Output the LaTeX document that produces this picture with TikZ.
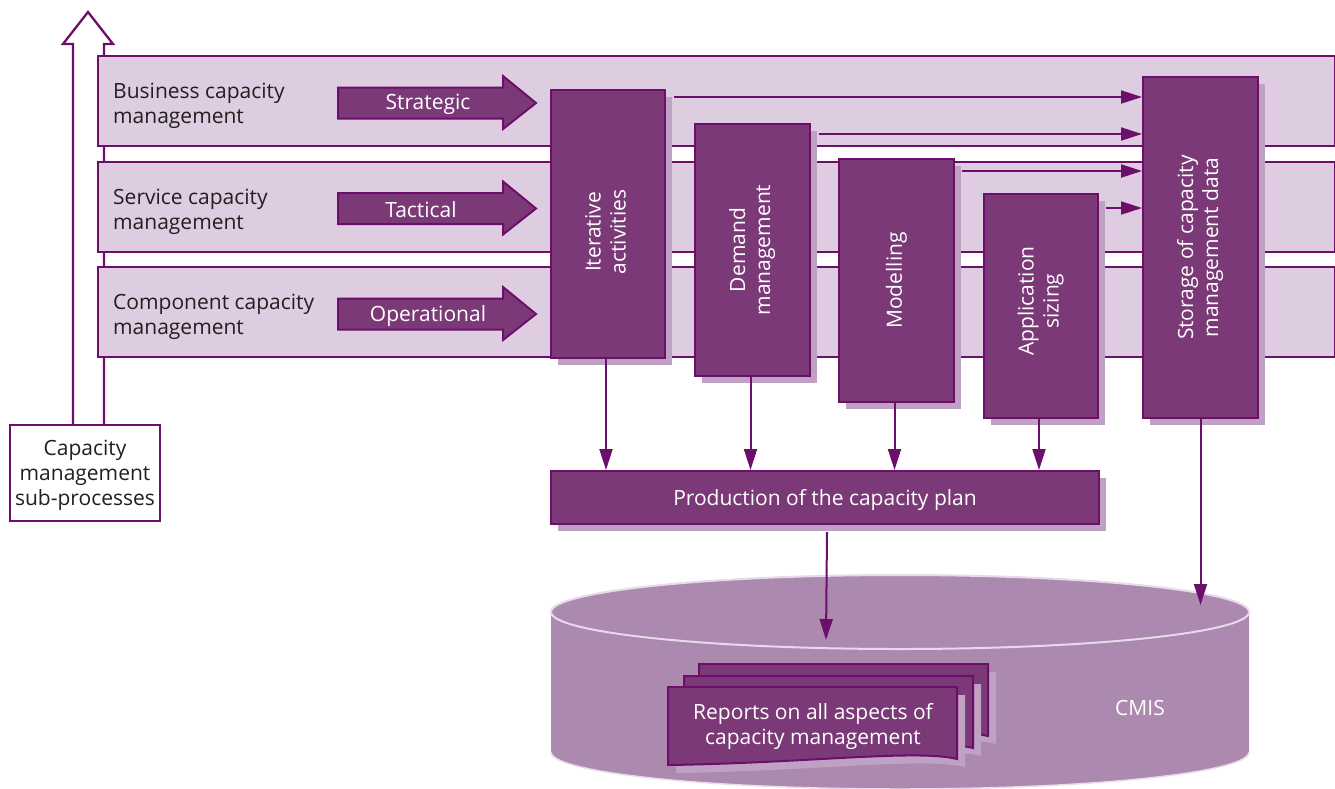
\documentclass[tikz,border=0pt]{standalone}
\usepackage{fontspec}
\usepackage{graphicx}
\setmainfont{Open Sans}
\usetikzlibrary{arrows.meta,calc,shadows,backgrounds}
\definecolor{pline}{HTML}{6B0F6B}
\definecolor{pbox}{HTML}{7B3A77}
\definecolor{pband}{HTML}{DECCE0}
\definecolor{pshadow}{HTML}{BFA2C3}
\definecolor{pcyl}{HTML}{AC89AF}
\definecolor{pcylline}{HTML}{E8DAEA}
\definecolor{ptext}{HTML}{231F20}
\begin{document}
\begin{tikzpicture}[x=1pt,y=-1pt,
  every node/.style={font=\fontsize{21}{25}\selectfont},
  band/.style={draw=pline, line width=2.3pt, fill=pband, inner sep=0pt, anchor=north west},
  lbl/.style={text=ptext, align=left, anchor=west, inner sep=0pt},
  pbx/.style={draw=pline, line width=2pt, fill=pbox, text=white, inner sep=0pt, anchor=north west,
     drop shadow={shadow xshift=7pt, shadow yshift=-7pt, fill=pshadow, opacity=1}},
  arr/.style={draw=pline, line width=2pt, -{Triangle[length=21pt,width=13pt]}},
  blk/.style={draw=pline, line width=2pt, fill=pbox},
  wt/.style={text=white, inner sep=0pt},
  docpic/.pic={
    \fill[pshadow] (8,8) -- (297,8) -- (297,80) .. controls (257,70) and (148,84) .. (8,86) -- cycle;
    \filldraw[draw=pline, line width=2pt, fill=pbox] (0,0) -- (289,0) -- (289,72) .. controls (249,62) and (140,76) .. (0,78) -- cycle;
  },
]
\useasboundingbox (0,0) rectangle (1335,788);

% bands
\node[band, minimum width=1237pt, minimum height=90pt] (b1) at (97,55) {};
\node[band, minimum width=1237pt, minimum height=90pt] (b2) at (97,160.5) {};
\node[band, minimum width=1237pt, minimum height=90pt] (b3) at (97,266) {};

\node[lbl] (l1) at (113,106) {Business capacity\\management};
\node[lbl] (l2) at (113,211.5) {Service capacity\\management};
\node[lbl] (l3) at (113,316.5) {Component capacity\\management};

% sub-processes box and big arrow
\node[draw=pline, line width=2pt, fill=white, text=ptext, align=center,
      minimum width=150pt, minimum height=96pt, inner sep=0pt] (sub) at (85,473)
      {\raisebox{-2pt}[\height][\depth]{\begin{tabular}{@{}c@{}}Capacity\\management\\sub-processes\end{tabular}}};
\begin{pgfonlayer}{background}
\filldraw[draw=pline, line width=2.3pt, fill=white]
  ($(sub.north)+(-12,0)$) -- (73,44) -- (63,44) -- (88,12) -- (113,44) -- (104,44) -- ($(sub.north)+(19,0)$);
\end{pgfonlayer}

% block arrows
\draw[blk, shift={(0,103)}] (338,-15.5) -- (503,-15.5) -- (503,-27) -- (536,0) -- (503,26) -- (503,15.5) -- (338,15.5) -- cycle;
\node[wt] (tS) at (428,104) {Strategic};
\draw[blk, shift={(0,208.5)}] (338,-15.5) -- (503,-15.5) -- (503,-27) -- (536,0) -- (503,26) -- (503,15.5) -- (338,15.5) -- cycle;
\node[wt] (tT) at (421,210) {Tactical};
\draw[blk, shift={(0,314)}] (338,-15.5) -- (503,-15.5) -- (503,-27) -- (536,0) -- (503,26) -- (503,15.5) -- (338,15.5) -- cycle;
\node[wt] (tO) at (428,316) {Operational};

% activity boxes
\node[pbx, minimum width=114pt, minimum height=268pt] (it) at (550,89)
  {\rotatebox{90}{\hspace*{-16pt}\begin{tabular}{@{}c@{}}Iterative\\activities\end{tabular}}};
\node[pbx, minimum width=115pt, minimum height=252pt] (dm) at (694,123)
  {\rotatebox{90}{\begin{tabular}{@{}c@{}}Demand\\management\end{tabular}}};
\node[pbx, minimum width=115pt, minimum height=243pt] (mo) at (838,158)
  {\rotatebox{90}{Modelling}};
\node[pbx, minimum width=114pt, minimum height=224pt] (as) at (983,193)
  {\rotatebox{90}{\begin{tabular}{@{}c@{}}Application\\sizing\end{tabular}\hspace*{-10pt}}};
\node[pbx, minimum width=115pt, minimum height=341pt] (st) at (1142,76)
  {\rotatebox{90}{\begin{tabular}{@{}c@{}}Storage of capacity\\management data\end{tabular}}};
\node[pbx, minimum width=548pt, minimum height=53pt] (pr) at (550,470)
  {\raisebox{-2.5pt}[\height][\depth]{Production of the capacity plan}};

% arrows into storage
\draw[arr] ($(it.east |- 0,97)+(8,0)$) -- (st.west |- 0,97);
\draw[arr] ($(dm.east |- 0,134)+(8,0)$) -- (st.west |- 0,134);
\draw[arr] ($(mo.east |- 0,171)+(7,0)$) -- (st.west |- 0,171);
\draw[arr] ($(as.east |- 0,208)+(7,0)$) -- (st.west |- 0,208);

% arrows into production
\draw[arr] ($(it.south)+(-2,0)$) -- ($(it.south |- pr.north)+(-2,0)$);
\draw[arr] ($(dm.south)+(-2,0)$) -- ($(dm.south |- pr.north)+(-2,0)$);
\draw[arr] ($(mo.south)+(-2,0)$) -- ($(mo.south |- pr.north)+(-2,0)$);
\draw[arr] ($(as.south)+(-2,0)$) -- ($(as.south |- pr.north)+(-2,0)$);

% CMIS cylinder
\fill[pcyl] (551,612) -- (551,752) arc[start angle=180, end angle=0, x radius=349, y radius=37]
  -- (1249,612) arc[start angle=0, end angle=-180, x radius=349, y radius=37] -- cycle;
\draw[pcylline, line width=1.5pt] (551,752) arc[start angle=180, end angle=0, x radius=349, y radius=37];
\draw[pcylline, line width=2pt] (900,612) ellipse[x radius=349, y radius=37];

\pic (d3) at (699,664) {docpic};
\pic (d2) at (684,676) {docpic};
\pic (d1) at (668,687) {docpic};
\node[wt, align=center] (rep) at (813,726) {Reports on all aspects of\\capacity management};
\node[wt] (cmis) at (1140,708) {CMIS};

\coordinate (cA) at (826,640);
\coordinate (cB) at (1200,605);
\draw[arr] ($(pr.south)+(2,7)$) -- (cA);
\draw[arr] (st.south) -- (st.south |- cB);
\end{tikzpicture}
\end{document}
